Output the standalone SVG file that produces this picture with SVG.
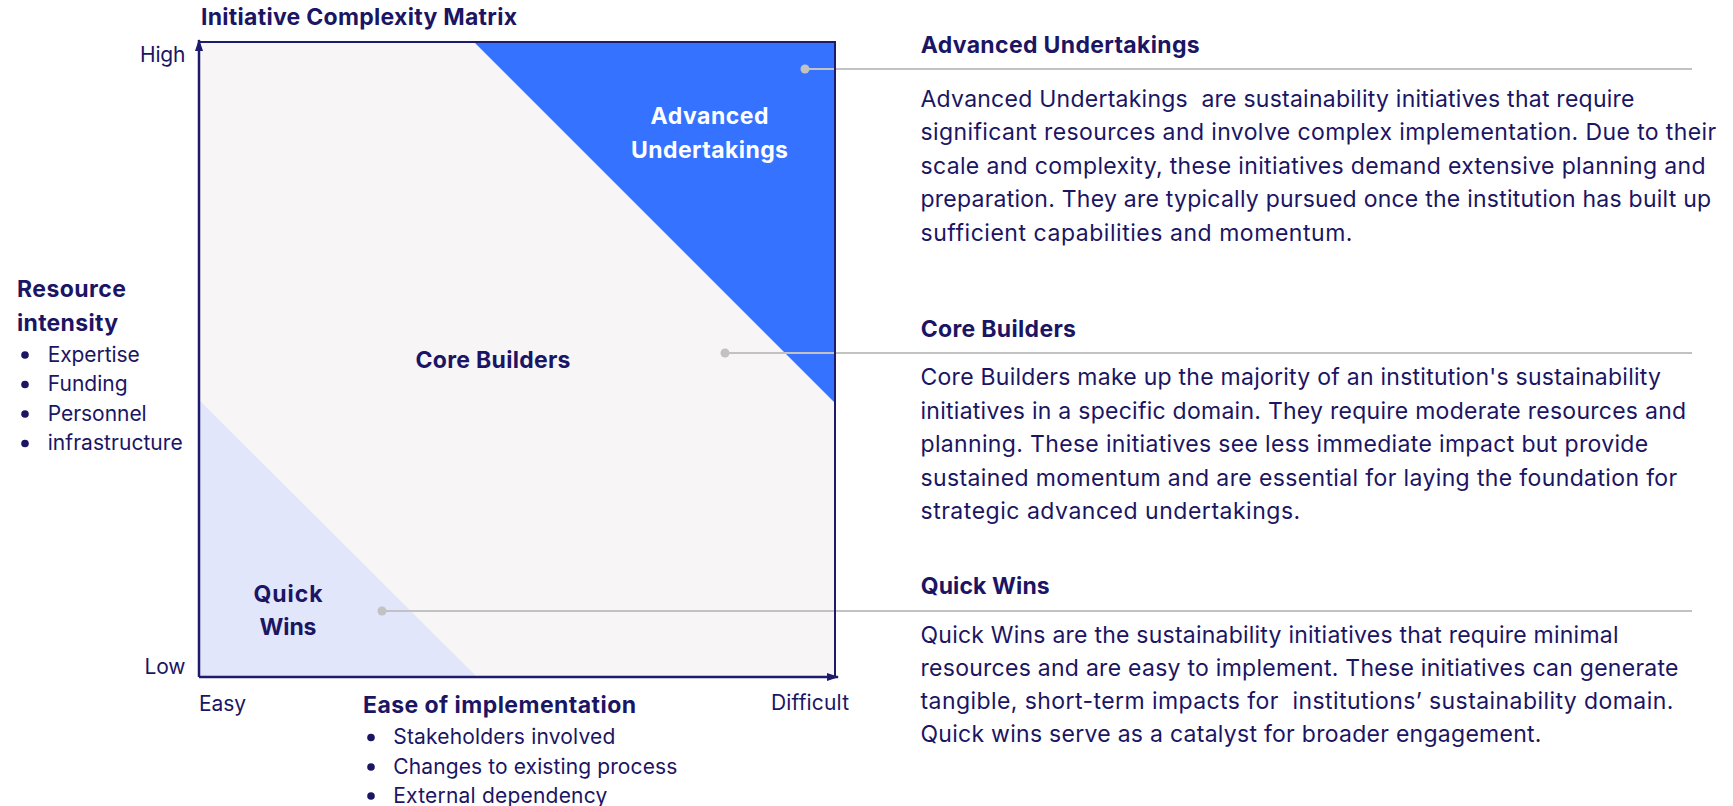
<svg xmlns="http://www.w3.org/2000/svg" width="1733" height="806" viewBox="0 0 1733 806">
  <style>
    text { font-family: Inter, "Noto Sans", "Liberation Sans", sans-serif; fill: #1B1563; }
    .b { font-weight: 700; font-size: 23px; }
    .r { font-weight: 400; font-size: 23px; }
    .s { font-weight: 400; font-size: 21px; }
    .w { fill: #FFFFFF; }
    .lead { stroke: #C2C2C2; stroke-width: 2; fill: none; }
    .dot { fill: #C2C2C2; }
    .axis { stroke: #1E1A6C; stroke-width: 2.5; fill: none; }
    .frame { stroke: #1E1A6C; stroke-width: 2; fill: none; }
    .bul { fill: #1B1563; }
  </style>
  <defs>
    <marker id="arr" viewBox="0 0 12 8" refX="11" refY="4" markerWidth="12" markerHeight="8" markerUnits="userSpaceOnUse" orient="auto">
      <path d="M0,0 L12,4 L0,8 Z" fill="#1E1A6C"/>
    </marker>
  </defs>

  <rect width="1733" height="806" fill="#FFFFFF"/>

  <text class="b" x="201" y="25" textLength="316">Initiative Complexity Matrix</text>

  <!-- matrix quadrants -->
  <g id="matrix-bg">
    <rect x="199" y="42" width="636" height="635" fill="#F7F5F6"/>
  </g>
  <g id="quadrant-advanced">
    <polygon points="474,42 835,42 835,403" fill="#3572FF"/>
    <text class="b w" text-anchor="middle" x="709.5" y="124" textLength="118">Advanced</text>
    <text class="b w" text-anchor="middle" x="709.5" y="157.5" textLength="157">Undertakings</text>
  </g>
  <g id="quadrant-quick">
    <polygon points="199,400 199,677 477,677" fill="#E1E6FB"/>
    <text class="b" text-anchor="middle" x="288" y="601.5" textLength="69">Quick</text>
    <text class="b" text-anchor="middle" x="288" y="635" textLength="57">Wins</text>
  </g>
  <g id="quadrant-core">
    <text class="b" text-anchor="middle" x="493" y="368" textLength="155">Core Builders</text>
  </g>

  <!-- connectors -->
  <g id="connectors">
    <line class="lead" x1="805" y1="69" x2="1692" y2="69"/>
    <circle class="dot" cx="805" cy="69" r="4.5"/>
    <line class="lead" x1="725" y1="353" x2="1692" y2="353"/>
    <circle class="dot" cx="725" cy="353" r="4.5"/>
    <line class="lead" x1="382" y1="611" x2="1692" y2="611"/>
    <circle class="dot" cx="382" cy="611" r="4.5"/>
  </g>

  <!-- axes -->
  <g id="axes">
    <polyline class="frame" points="199,42 835,42 835,677"/>
    <line class="axis" x1="199" y1="677" x2="199" y2="40" marker-end="url(#arr)"/>
    <line class="axis" x1="199" y1="677" x2="838" y2="677" marker-end="url(#arr)"/>
    <text class="s" text-anchor="end" x="185.5" y="61.5" textLength="45.5">High</text>
    <text class="s" text-anchor="end" x="185.5" y="674" textLength="41">Low</text>
    <text class="s" x="199" y="710.5" textLength="47">Easy</text>
    <text class="s" x="771" y="710" textLength="78">Difficult</text>
  </g>

  <g id="y-axis-label">
    <text class="b" x="17" y="297" textLength="109">Resource</text>
    <text class="b" x="17" y="331" textLength="101">intensity</text>
    <circle class="bul" cx="25" cy="355" r="3.8"/>
    <text class="s" x="47.7" y="361.5" textLength="92">Expertise</text>
    <circle class="bul" cx="25" cy="384.5" r="3.8"/>
    <text class="s" x="47.7" y="391" textLength="80">Funding</text>
    <circle class="bul" cx="25" cy="414" r="3.8"/>
    <text class="s" x="47.7" y="420.5" textLength="99">Personnel</text>
    <circle class="bul" cx="25" cy="443.5" r="3.8"/>
    <text class="s" x="47.7" y="450" textLength="135">infrastructure</text>
  </g>

  <g id="x-axis-label">
    <text class="b" x="363" y="713" textLength="273">Ease of implementation</text>
    <circle class="bul" cx="371" cy="737.5" r="3.8"/>
    <text class="s" x="393.3" y="744" textLength="222">Stakeholders involved</text>
    <circle class="bul" cx="371" cy="767" r="3.8"/>
    <text class="s" x="393.3" y="773.5" textLength="284">Changes to existing process</text>
    <circle class="bul" cx="371" cy="796" r="3.8"/>
    <text class="s" x="393.3" y="802.5" textLength="214">External dependency</text>
  </g>

  <!-- descriptions -->
  <g id="desc-advanced">
    <text class="b" x="920.7" y="52.5" textLength="279">Advanced Undertakings</text>
    <text class="r" x="920.5" y="106.7" textLength="714">Advanced Undertakings&#160; are sustainability initiatives that require</text>
    <text class="r" x="920.5" y="140.2" textLength="795.7">significant resources and involve complex implementation. Due to their</text>
    <text class="r" x="920.5" y="173.7" textLength="785">scale and complexity, these initiatives demand extensive planning and</text>
    <text class="r" x="920.5" y="207.2" textLength="790.6">preparation. They are typically pursued once the institution has built up</text>
    <text class="r" x="920.5" y="240.7" textLength="432">sufficient capabilities and momentum.</text>
  </g>
  <g id="desc-core">
    <text class="b" x="920.7" y="336.7" textLength="155.3">Core Builders</text>
    <text class="r" x="920.5" y="385" textLength="740.5">Core Builders make up the majority of an institution's sustainability</text>
    <text class="r" x="920.5" y="418.5" textLength="765.6">initiatives in a specific domain. They require moderate resources and</text>
    <text class="r" x="920.5" y="452" textLength="727.7">planning. These initiatives see less immediate impact but provide</text>
    <text class="r" x="920.5" y="485.5" textLength="756.7">sustained momentum and are essential for laying the foundation for</text>
    <text class="r" x="920.5" y="519" textLength="379.7">strategic advanced undertakings.</text>
  </g>
  <g id="desc-quick">
    <text class="b" x="920.7" y="594.3" textLength="129">Quick Wins</text>
    <text class="r" x="920.5" y="642.7" textLength="698">Quick Wins are the sustainability initiatives that require minimal</text>
    <text class="r" x="920.5" y="676" textLength="758">resources and are easy to implement. These initiatives can generate</text>
    <text class="r" x="920.5" y="709.3" textLength="752.8">tangible, short-term impacts for&#160; institutions’ sustainability domain.</text>
    <text class="r" x="920.5" y="742.3" textLength="621">Quick wins serve as a catalyst for broader engagement.</text>
  </g>
</svg>
